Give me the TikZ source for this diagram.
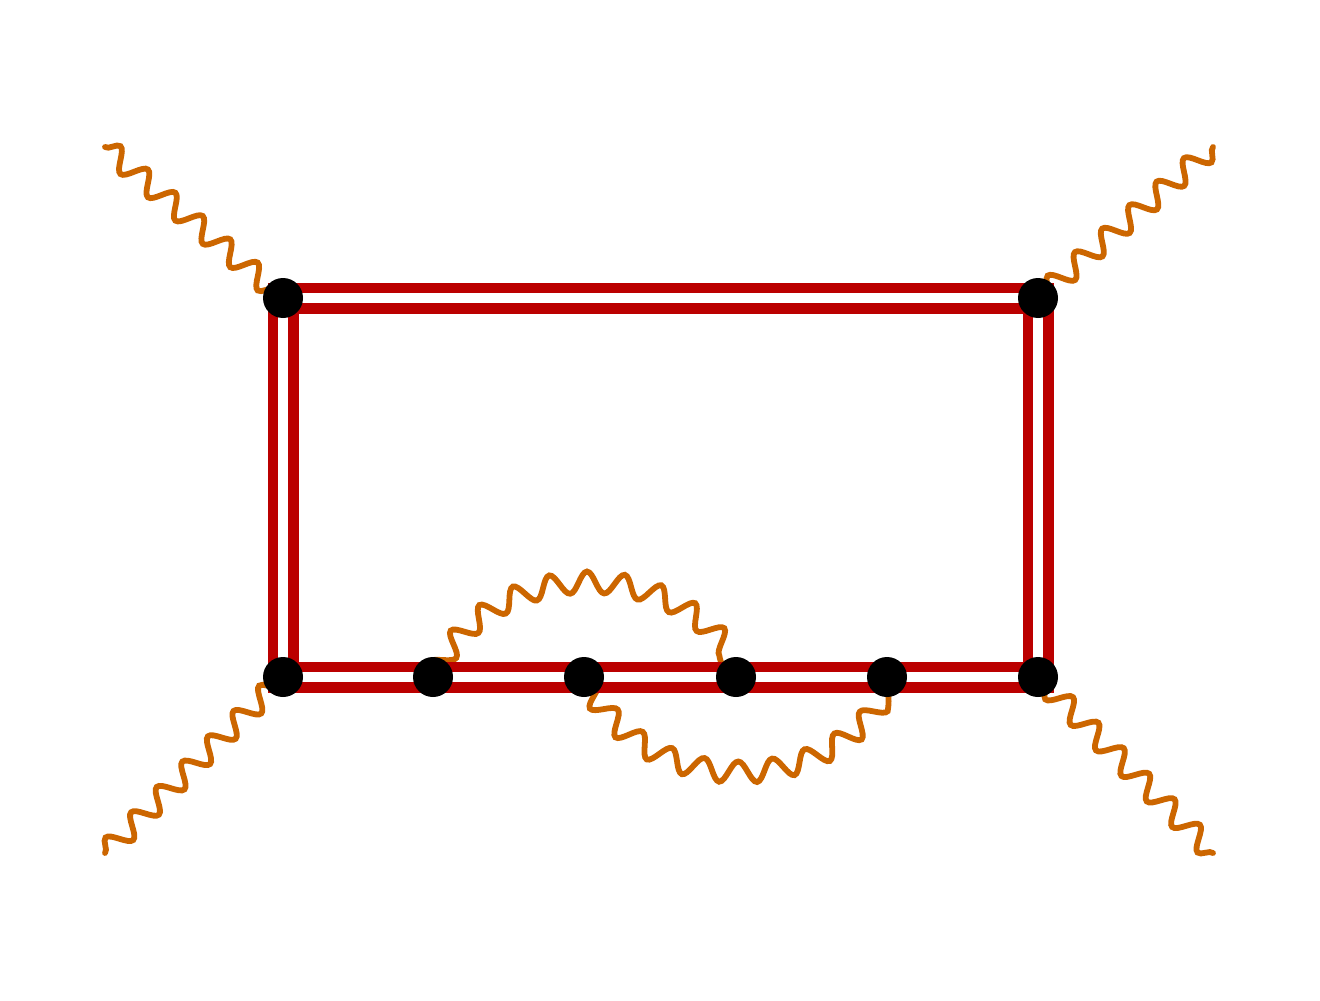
\documentclass[tikz,border=0pt]{standalone}
\usetikzlibrary{decorations.pathmorphing,calc}
\definecolor{linered}{RGB}{187,0,0}
\definecolor{photonorange}{RGB}{204,102,0}
\begin{document}
\begin{tikzpicture}[x=0.5pt,y=-0.5pt,
  vertex/.style={circle,fill=black,inner sep=0pt,minimum size=20pt},
  photon/.style={draw=photonorange,line width=2.9pt,line cap=round,
    decorate,decoration={snake,amplitude=5.3pt,segment length=18pt}},
  dbl/.style={draw=linered,double=white,double distance=5pt,line width=5.25pt}]
\useasboundingbox (0,0) rectangle (1320,1000);
\coordinate (e1) at (105,147);
\coordinate (e2) at (1213,147);
\coordinate (e3) at (105,853);
\coordinate (e4) at (1213,853);
\coordinate (c1) at (283,298);
\coordinate (c2) at (1038,298);
\coordinate (c3) at (1038,677);
\coordinate (c4) at (283,677);
\coordinate (b1) at (433,677);
\coordinate (b2) at (584,677);
\coordinate (b3) at (736,677);
\coordinate (b4) at (887,677);
% photons
\draw[photon] (e1) -- (c1);
\draw[photon] (e2) -- (c2);
\draw[photon] (e3) -- (c4);
\draw[photon] (e4) -- (c3);
\draw[photon] (b1) .. controls ($(b1)+(60,-116)$) and ($(b3)+(-60,-116)$) .. (b3);
\draw[photon] (b2) .. controls ($(b2)+(60,116)$) and ($(b4)+(-60,116)$) .. (b4);
% double line
\draw[dbl] (c1) -- (c2) -- (c3) -- (c4) -- cycle;
% vertices
\node[vertex] (v1) at (c1) {};
\node[vertex] (v2) at (c2) {};
\node[vertex] (v3) at (c3) {};
\node[vertex] (v4) at (c4) {};
\node[vertex] (w1) at (b1) {};
\node[vertex] (w2) at (b2) {};
\node[vertex] (w3) at (b3) {};
\node[vertex] (w4) at (b4) {};
\end{tikzpicture}
\end{document}
